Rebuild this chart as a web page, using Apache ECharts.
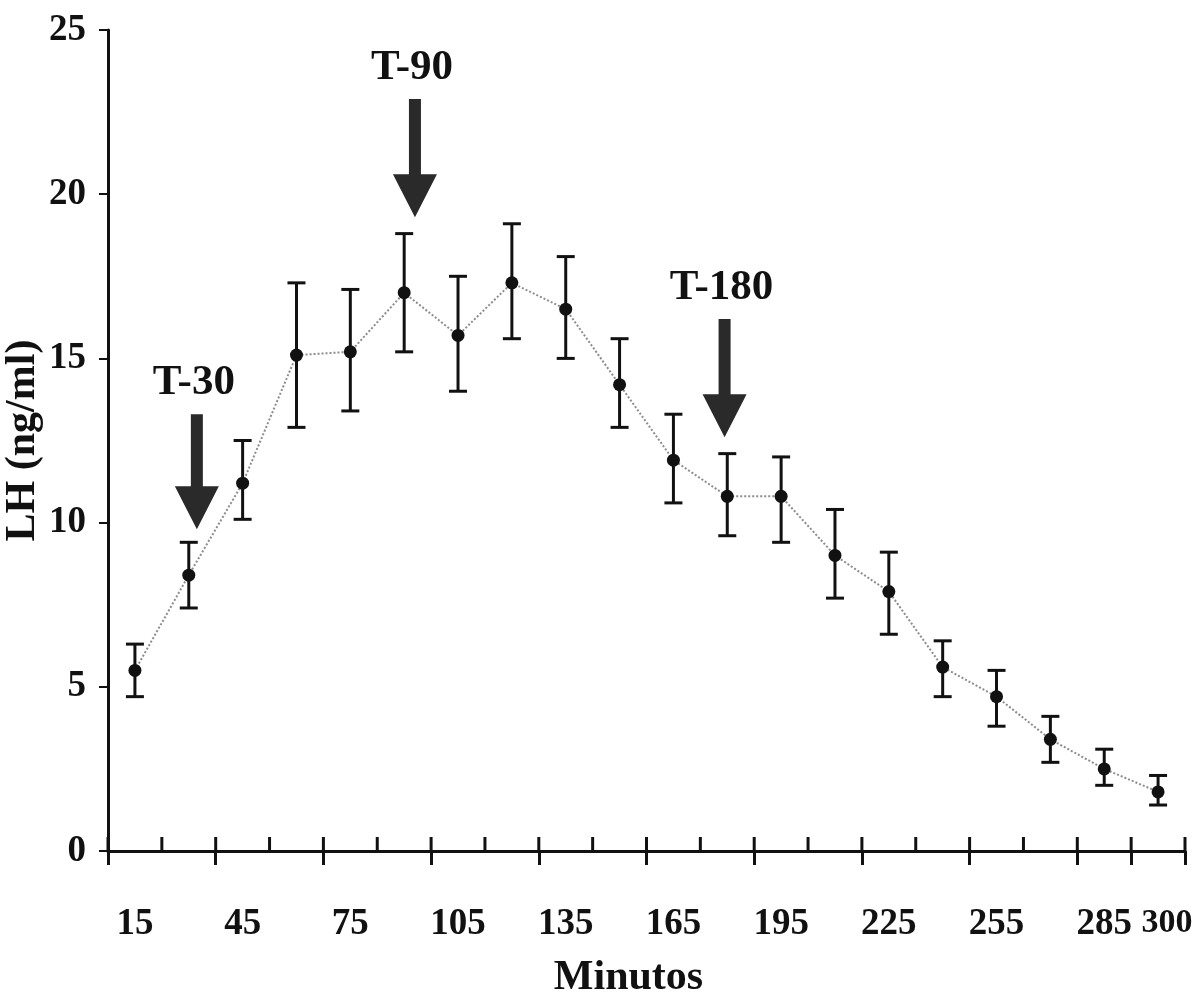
<!DOCTYPE html>
<html>
<head>
<meta charset="utf-8">
<script src="https://cdn.jsdelivr.net/npm/echarts@6/dist/echarts.min.js"></script>
<style>
html,body{margin:0;padding:0;background:#fff;}
#main{width:1204px;height:996px;}
</style>
</head>
<body>
<div id="main"></div>
<script>
var minutos = ['15','30','45','60','75','90','105','120','135','150','165','180','195','210','225','240','255','270','285','300'];
var lhMedia = [5.5, 8.4, 11.2, 15.1, 15.2, 17.0, 15.7, 17.3, 16.5, 14.2, 11.9, 10.8, 10.8, 9.0, 7.9, 5.6, 4.7, 3.4, 2.5, 1.8];
var lhInf   = [4.7, 7.4, 10.1, 12.9, 13.4, 15.2, 14.0, 15.6, 15.0, 12.9, 10.6, 9.6, 9.4, 7.7, 6.6, 4.7, 3.8, 2.7, 2.0, 1.4];
var lhSup   = [6.3, 9.4, 12.5, 17.3, 17.1, 18.8, 17.5, 19.1, 18.1, 15.6, 13.3, 12.1, 12.0, 10.4, 9.1, 6.4, 5.5, 4.1, 3.1, 2.3];
// flechas: posición en índice de categoría, valor arriba y punta
var flechas = [
    {texto: 'T-30',  idx: 1.15, arriba: 13.3, punta: 9.8},
    {texto: 'T-90',  idx: 5.2,  arriba: 22.9, punta: 19.3},
    {texto: 'T-180', idx: 10.95, arriba: 16.2, punta: 12.6}
];

var fuente = '"Liberation Serif", "Times New Roman", serif';
var chart = echarts.init(document.getElementById('main'));

var barras = lhMedia.map(function (v, i) { return [i, lhInf[i], lhSup[i]]; });

var option = {
    animation: false,
    backgroundColor: '#fff',
    grid: {left: 108, right: 19, top: 30, bottom: 145, outerBoundsMode: 'none', containLabel: false},
    xAxis: {
        type: 'category',
        data: minutos,
        boundaryGap: true,
        name: 'Minutos',
        nameLocation: 'middle',
        nameGap: 106,
        nameTextStyle: {fontFamily: fuente, fontWeight: 'bold', fontSize: 42, color: '#111', padding: [0, 36, 0, 0]},
        axisLine: {lineStyle: {color: '#111', width: 3}},
        axisTick: {show: true, length: 14, lineStyle: {color: '#111', width: 3}},
        axisLabel: {
            interval: function (i) { return i % 2 === 0 || i === 19; },
            hideOverlap: false,
            showMaxLabel: true,
            margin: 55,
            fontFamily: fuente, fontWeight: 'bold', fontSize: 37, color: '#111',
            formatter: function (v) { return v === '300' ? '{c|300}' : v; },
            rich: {c: {fontFamily: fuente, fontWeight: 'bold', fontSize: 34, color: '#111', padding: [0, 0, 0, 18]}}
        },
        splitLine: {show: false}
    },
    yAxis: {
        type: 'value',
        min: 0, max: 25, interval: 5,
        name: 'LH (ng/ml)',
        nameLocation: 'middle',
        nameGap: 64,
        nameMoveOverlap: false,
        nameRotate: 90,
        nameTextStyle: {fontFamily: fuente, fontWeight: 'bold', fontSize: 42, color: '#111'},
        axisLine: {show: true, lineStyle: {color: '#111', width: 3}},
        axisTick: {show: true, length: 9, lineStyle: {color: '#111', width: 2}},
        axisLabel: {margin: 22, fontFamily: fuente, fontWeight: 'bold', fontSize: 37, color: '#111'},
        splitLine: {show: false}
    },
    series: [
        {
            type: 'custom',
            name: 'error',
            renderItem: function (params, api) {
                var x = api.value(0);
                var lo = api.coord([x, api.value(1)]);
                var hi = api.coord([x, api.value(2)]);
                var w = 9;
                var st = {stroke: '#111', lineWidth: 3};
                return {
                    type: 'group',
                    children: [
                        {type: 'line', shape: {x1: hi[0], y1: hi[1], x2: lo[0], y2: lo[1]}, style: st},
                        {type: 'line', shape: {x1: hi[0] - w, y1: hi[1], x2: hi[0] + w, y2: hi[1]}, style: st},
                        {type: 'line', shape: {x1: lo[0] - w, y1: lo[1], x2: lo[0] + w, y2: lo[1]}, style: st}
                    ]
                };
            },
            encode: {x: 0, y: [1, 2]},
            data: barras,
            z: 3
        },
        {
            type: 'line',
            name: 'LH',
            data: lhMedia,
            symbol: 'circle',
            symbolSize: 13,
            itemStyle: {color: '#111'},
            lineStyle: {color: '#8c8c8c', width: 2, type: 'dotted'},
            z: 4
        }
    ]
};
chart.setOption(option);

// posición en píxeles de un índice de categoría fraccionario
function pix(idx, val) {
    var a = chart.convertToPixel({gridIndex: 0}, [0, val]);
    var b = chart.convertToPixel({gridIndex: 0}, [1, val]);
    return [a[0] + (b[0] - a[0]) * idx, a[1]];
}
var graficos = [];

// marcas del eje x hacia arriba (cruzan el eje)
for (var k = 0; k <= minutos.length; k++) {
    var p = pix(k - 0.5, 0);
    graficos.push({
        type: 'line',
        shape: {x1: p[0], y1: p[1], x2: p[0], y2: p[1] - 14},
        style: {stroke: '#111', lineWidth: 3}
    });
}

// flechas de anotación
flechas.forEach(function (f) {
    var top = pix(f.idx, f.arriba);
    var tip = pix(f.idx, f.punta);
    var x = top[0];
    var cabeza = 43, media = 22, eje = 6;
    graficos.push({
        type: 'polygon',
        shape: {points: [
            [x - eje, top[1]], [x + eje, top[1]], [x + eje, tip[1] - cabeza],
            [x + media, tip[1] - cabeza], [x, tip[1]], [x - media, tip[1] - cabeza],
            [x - eje, tip[1] - cabeza]
        ]},
        style: {fill: '#2a2a2a'}
    });
    graficos.push({
        type: 'text',
        x: x - 3,
        y: top[1] - 10,
        style: {
            text: f.texto, fontFamily: fuente, fontWeight: 'bold', fontSize: 43,
            fill: '#111', align: 'center', verticalAlign: 'bottom'
        }
    });
});
chart.setOption({graphic: graficos});
</script>
</body>
</html>
